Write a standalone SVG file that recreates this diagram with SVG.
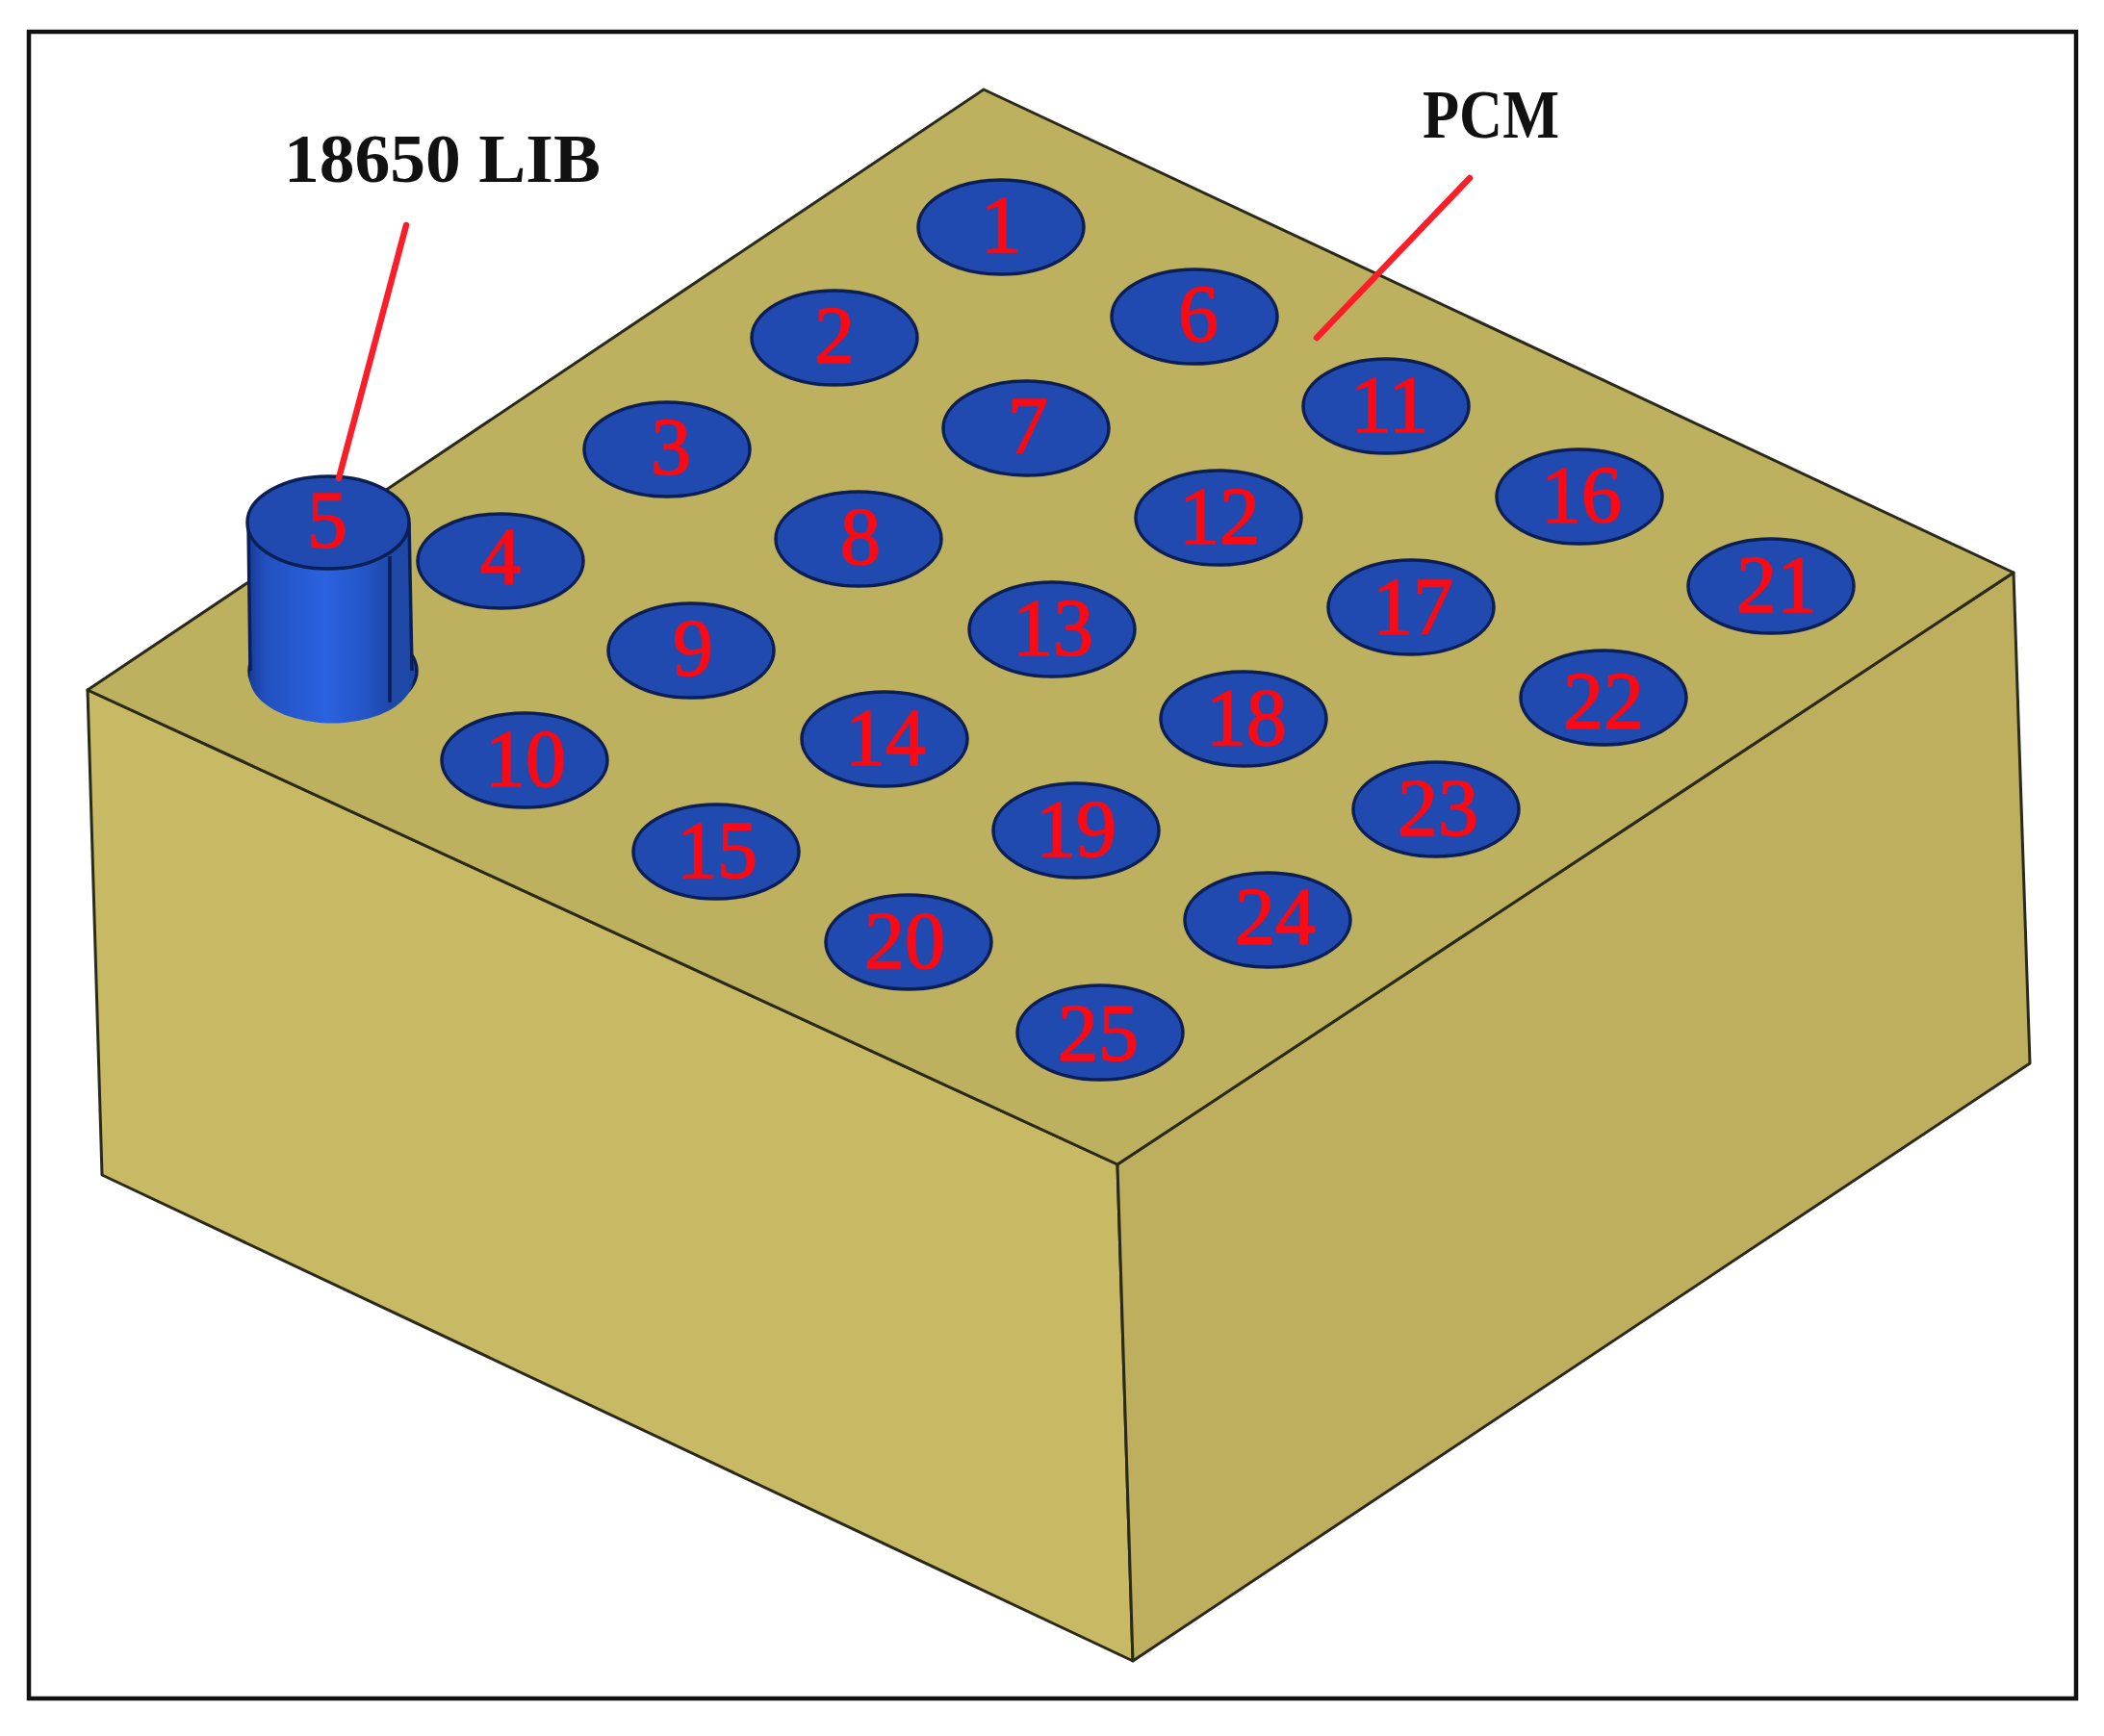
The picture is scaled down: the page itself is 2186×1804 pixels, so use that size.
<svg xmlns="http://www.w3.org/2000/svg" width="2186" height="1804" viewBox="0 0 2186 1804">
<style>
.edge{stroke:#2a2a1a;stroke-width:3;stroke-linejoin:round}
.hole{fill:#204ab0;stroke:#0c1f55;stroke-width:3.5}
.num{font-family:"Liberation Serif",serif;font-size:84px;fill:#fa0a14;stroke:#fa0a14;stroke-width:1.6;text-anchor:middle}
.lab{font-family:"Liberation Serif",serif;font-weight:bold;font-size:72px;fill:#111}
.lead{stroke:#fa1e28;stroke-width:6.5;stroke-linecap:round;fill:none}
</style>
<defs>
<linearGradient id="cyl" x1="0" x2="1" y1="0" y2="0">
<stop offset="0" stop-color="#173c98"/><stop offset="0.12" stop-color="#2150c0"/><stop offset="0.55" stop-color="#2b62e0"/><stop offset="0.85" stop-color="#2353c4"/><stop offset="1" stop-color="#1e48a8"/>
</linearGradient>
</defs>
<rect width="2186" height="1804" fill="#fff"/>
<rect id="frame" x="30" y="33" width="2127" height="1732" fill="none" stroke="#111" stroke-width="4.5"/>
<g id="block">
<polygon id="face-left" class="edge" fill="#c8ba65" points="91,717 1161,1210 1177,1726 106,1221"/>
<polygon id="face-right" class="edge" fill="#bdaf5e" points="1161,1210 2092,595 2109,1105 1177,1726"/>
<polygon id="face-top" class="edge" fill="#bdb05f" points="1022,93 2092,595 1161,1210 91,717"/>
</g>
<g id="cell-1"><ellipse class="hole" cx="1040" cy="236" rx="86" ry="49"/><text class="num" x="1040" y="262">1</text></g>
<g id="cell-2"><ellipse class="hole" cx="867" cy="351" rx="86" ry="49"/><text class="num" x="867" y="377">2</text></g>
<g id="cell-3"><ellipse class="hole" cx="693" cy="467" rx="86" ry="49"/><text class="num" x="697" y="493">3</text></g>
<g id="cell-4"><ellipse class="hole" cx="520" cy="583" rx="86" ry="49"/><text class="num" x="520" y="607">4</text></g>
<g id="cell-5">
<ellipse cx="346" cy="697" rx="87" ry="48" fill="#1c48ae" stroke="#0c1f55" stroke-width="3.5"/>
<path d="M258,543 L260,697 A86,48 0 0 0 405,738 L405,550 Z" fill="url(#cyl)"/>
<path d="M405,550 L425,543 L428,697 A87,48 0 0 1 405,738 Z" fill="#1e48a8"/>
<path d="M258,543 L260,697 M425,543 L428,697 M405,578 L405,730" fill="none" stroke="#0c1f55" stroke-width="3.5"/>
<ellipse class="hole" cx="341" cy="543" rx="84" ry="48"/>
<text class="num" x="340" y="569">5</text>
</g>
<g id="cell-6"><ellipse class="hole" cx="1241" cy="329" rx="86" ry="49"/><text class="num" x="1245" y="355">6</text></g>
<g id="cell-7"><ellipse class="hole" cx="1066" cy="445" rx="86" ry="49"/><text class="num" x="1068" y="471">7</text></g>
<g id="cell-8"><ellipse class="hole" cx="892" cy="560" rx="86" ry="49"/><text class="num" x="894" y="586">8</text></g>
<g id="cell-9"><ellipse class="hole" cx="718" cy="676" rx="86" ry="49"/><text class="num" x="720" y="702">9</text></g>
<g id="cell-10"><ellipse class="hole" cx="545" cy="790" rx="86" ry="49"/><text class="num" x="546" y="817">10</text></g>
<g id="cell-11"><ellipse class="hole" cx="1440" cy="422" rx="86" ry="49"/><text class="num" x="1444" y="449">11</text></g>
<g id="cell-12"><ellipse class="hole" cx="1266" cy="538" rx="86" ry="49"/><text class="num" x="1267" y="565">12</text></g>
<g id="cell-13"><ellipse class="hole" cx="1093" cy="654" rx="86" ry="49"/><text class="num" x="1094" y="681">13</text></g>
<g id="cell-14"><ellipse class="hole" cx="919" cy="768" rx="86" ry="49"/><text class="num" x="920" y="795">14</text></g>
<g id="cell-15"><ellipse class="hole" cx="744" cy="885" rx="86" ry="49"/><text class="num" x="745" y="912">15</text></g>
<g id="cell-16"><ellipse class="hole" cx="1641" cy="516" rx="86" ry="49"/><text class="num" x="1643" y="543">16</text></g>
<g id="cell-17"><ellipse class="hole" cx="1466" cy="631" rx="86" ry="49"/><text class="num" x="1468" y="659">17</text></g>
<g id="cell-18"><ellipse class="hole" cx="1292" cy="747" rx="86" ry="49"/><text class="num" x="1295" y="774">18</text></g>
<g id="cell-19"><ellipse class="hole" cx="1118" cy="863" rx="86" ry="49"/><text class="num" x="1118" y="890">19</text></g>
<g id="cell-20"><ellipse class="hole" cx="944" cy="979" rx="86" ry="49"/><text class="num" x="940" y="1006">20</text></g>
<g id="cell-21"><ellipse class="hole" cx="1840" cy="609" rx="86" ry="49"/><text class="num" x="1846" y="636">21</text></g>
<g id="cell-22"><ellipse class="hole" cx="1666" cy="725" rx="86" ry="49"/><text class="num" x="1666" y="757">22</text></g>
<g id="cell-23"><ellipse class="hole" cx="1492" cy="841" rx="86" ry="49"/><text class="num" x="1494" y="868">23</text></g>
<g id="cell-24"><ellipse class="hole" cx="1317" cy="956" rx="86" ry="49"/><text class="num" x="1325" y="981">24</text></g>
<g id="cell-25"><ellipse class="hole" cx="1143" cy="1073" rx="86" ry="49"/><text class="num" x="1141" y="1102">25</text></g>
<g id="connectors">
<line class="lead" x1="422" y1="234" x2="352" y2="497"/>
<line class="lead" x1="1527" y1="185" x2="1368" y2="351"/>
</g>
<g id="label-lib"><text class="lab" x="295" y="189" textLength="329" lengthAdjust="spacingAndGlyphs">18650 LIB</text></g>
<g id="label-pcm"><text class="lab" x="1478" y="143" textLength="142" lengthAdjust="spacingAndGlyphs">PCM</text></g>
</svg>
